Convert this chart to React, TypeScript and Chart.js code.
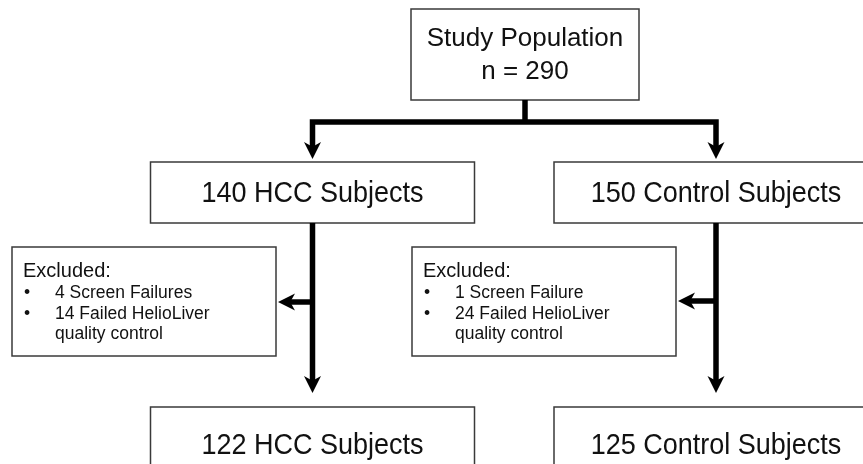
import React, { useEffect, useRef } from "react";
import { Chart, registerables } from "chart.js";

Chart.register(...registerables);

// ---- Data ----
const rootTitle = "Study Population";
const totalSubjects = 290;
const groupNames = ["HCC", "Control"];
const enrolledCounts = [140, 150];
const screenFailureCounts = [4, 1];
const qcFailureCounts = [14, 24];
const analyzedCounts = [122, 125];

// ---- Layout (chart units, mapped through hidden linear scales) ----
const W = 863;
const H = 464;
const rootBox = { x0: 411, x1: 639, y0: 9, y1: 100 };
const branchY = 122;
const groupCenters = [312.5, 716];
const groupHalfWidth = 162;
const groupBoxY = { y0: 162, y1: 223 };
const finalBoxY = { y0: 407, y1: 480 };
const exclBoxes = [
  { x0: 12, x1: 276, y0: 247, y1: 356 },
  { x0: 412, x1: 676, y0: 247, y1: 356 },
];
const exclArrowY = [302, 301];
const FONT = "'Liberation Sans', Arial, sans-serif";

function plural(n: number, word: string) {
  return `${n} ${word}${n === 1 ? "" : "s"}`;
}

const flowPlugin = {
  id: "flow",
  afterDraw(chart: any) {
    const ctx: CanvasRenderingContext2D = chart.ctx;
    const xs = chart.scales.x;
    const ys = chart.scales.y;
    const X = (v: number) => xs.getPixelForValue(v);
    const Y = (v: number) => ys.getPixelForValue(v);

    ctx.save();
    const box = (b: { x0: number; x1: number; y0: number; y1: number }) => {
      const x0 = X(b.x0), x1 = X(b.x1), y0 = Y(b.y0), y1 = Y(b.y1);
      ctx.fillStyle = "#ffffff";
      ctx.fillRect(x0, y0, x1 - x0, y1 - y0);
      ctx.strokeStyle = "#3a3a3a";
      ctx.lineWidth = 1.5;
      ctx.strokeRect(x0, y0, x1 - x0, y1 - y0);
    };
    const text = (
      t: string,
      x: number,
      y: number,
      size: number,
      sx: number,
      align: CanvasTextAlign
    ) => {
      ctx.save();
      ctx.translate(X(x), Y(y));
      ctx.scale(sx, 1);
      ctx.font = `${size}px ${FONT}`;
      ctx.textAlign = align;
      ctx.textBaseline = "alphabetic";
      ctx.fillStyle = "#111111";
      ctx.fillText(t, 0, 0);
      ctx.restore();
    };
    const head = (tx: number, ty: number, dx: number, dy: number) => {
      const L = 17, Wd = 17;
      const px = -dy, py = dx;
      const x = X(tx), y = Y(ty);
      ctx.fillStyle = "#000000";
      ctx.beginPath();
      ctx.moveTo(x, y);
      ctx.lineTo(x - dx * L + px * Wd / 2, y - dy * L + py * Wd / 2);
      ctx.lineTo(x - dx * L * 0.72, y - dy * L * 0.72);
      ctx.lineTo(x - dx * L - px * Wd / 2, y - dy * L - py * Wd / 2);
      ctx.closePath();
      ctx.fill();
    };
    const seg = (pts: number[][]) => {
      ctx.strokeStyle = "#000000";
      ctx.lineWidth = 5.5;
      ctx.lineJoin = "miter";
      ctx.lineCap = "butt";
      ctx.beginPath();
      pts.forEach((p, i) => (i ? ctx.lineTo(X(p[0]), Y(p[1])) : ctx.moveTo(X(p[0]), Y(p[1]))));
      ctx.stroke();
    };

    // root box
    box(rootBox);
    const rc = (rootBox.x0 + rootBox.x1) / 2;
    text(rootTitle, rc, 46, 26, 1, "center");
    text(`n = ${totalSubjects}`, rc, 79, 26, 1, "center");

    // branch connectors
    seg([[rc, rootBox.y1], [rc, branchY]]);
    seg([
      [groupCenters[0], groupBoxY.y0 - 3 - 12],
      [groupCenters[0], branchY],
      [groupCenters[1], branchY],
      [groupCenters[1], groupBoxY.y0 - 3 - 12],
    ]);
    groupCenters.forEach((c) => head(c, groupBoxY.y0 - 3, 0, 1));

    groupNames.forEach((g, i) => {
      const c = groupCenters[i];
      // group box
      box({ x0: c - groupHalfWidth, x1: c + groupHalfWidth, ...groupBoxY });
      text(`${enrolledCounts[i]} ${g} Subjects`, c, 202, 30, 0.9, "center");
      // stem down
      seg([[c, groupBoxY.y1], [c, finalBoxY.y0 - 14 - 12]]);
      head(c, finalBoxY.y0 - 14, 0, 1);
      // exclusion arrow
      const eb = exclBoxes[i];
      seg([[c, exclArrowY[i]], [eb.x1 + 2 + 12, exclArrowY[i]]]);
      head(eb.x1 + 2, exclArrowY[i], -1, 0);
      // exclusion box
      box(eb);
      text("Excluded:", eb.x0 + 11, 277, 20, 1, "left");
      text("•", eb.x0 + 15, 298, 17.5, 1, "center");
      text(plural(screenFailureCounts[i], "Screen Failure"), eb.x0 + 43, 298, 17.5, 1, "left");
      text("•", eb.x0 + 15, 319, 17.5, 1, "center");
      text(`${qcFailureCounts[i]} Failed HelioLiver`, eb.x0 + 43, 319, 17.5, 1, "left");
      text("quality control", eb.x0 + 43, 339, 17.5, 1, "left");
      // final box
      box({ x0: c - groupHalfWidth, x1: c + groupHalfWidth, ...finalBoxY });
      text(`${analyzedCounts[i]} ${g} Subjects`, c, 454, 30, 0.9, "center");
    });
    ctx.restore();
  },
};

const bgPlugin = {
  id: "bg",
  beforeDraw(chart: any) {
    const ctx = chart.ctx;
    ctx.save();
    ctx.fillStyle = "#ffffff";
    ctx.fillRect(0, 0, chart.width, chart.height);
    ctx.restore();
  },
};

export default function App() {
  const ref = useRef<HTMLCanvasElement | null>(null);
  useEffect(() => {
    document.body.style.margin = "0";
    if (!ref.current) return;
    const chart = new Chart(ref.current, {
      type: "scatter",
      data: { datasets: [{ data: [], pointRadius: 0 }] },
      options: {
        animation: false,
        responsive: false,
        layout: { padding: 0 },
        scales: {
          x: { type: "linear", min: 0, max: W, display: false },
          y: { type: "linear", min: 0, max: H, reverse: true, display: false },
        },
        plugins: { legend: { display: false }, tooltip: { enabled: false } },
      },
      plugins: [bgPlugin, flowPlugin],
    });
    return () => chart.destroy();
  }, []);
  return (
    <div style={{ position: "fixed", left: 0, top: 0, width: W, height: H, background: "#fff" }}>
      <canvas ref={ref} width={W} height={H} style={{ display: "block", width: W, height: H }} />
    </div>
  );
}
